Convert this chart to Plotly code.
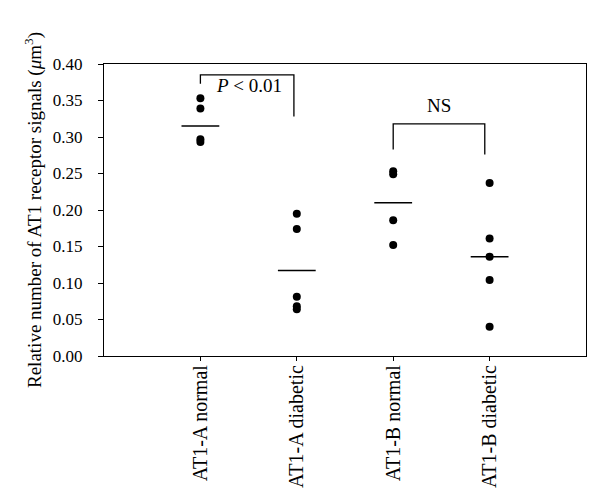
import plotly.graph_objects as go

groups = ["AT1-A normal", "AT1-A diabetic", "AT1-B normal", "AT1-B diabetic"]
a_normal = [0.353, 0.339, 0.297, 0.293]
a_diabetic = [0.195, 0.174, 0.081, 0.068, 0.064]
b_normal = [0.253, 0.249, 0.186, 0.152]
b_diabetic = [0.237, 0.161, 0.136, 0.104, 0.040]
group_means = [0.315, 0.117, 0.210, 0.136]

FONT = "Liberation Serif"
values = [a_normal, a_diabetic, b_normal, b_diabetic]

fig = go.Figure()
for i, vals in enumerate(values):
    fig.add_trace(go.Scatter(
        x=[i] * len(vals), y=vals, mode="markers",
        marker=dict(color="black", size=8),
        showlegend=False, hoverinfo="y",
    ))

# group means as short horizontal dashes
fig.add_trace(go.Scatter(
    x=list(range(len(groups))), y=group_means, mode="markers",
    marker=dict(symbol="line-ew-open", size=27, color="black",
                line=dict(color="black", width=1.5)),
    showlegend=False,
))

# significance brackets
fig.add_trace(go.Scatter(
    x=[0, 0, 0.97, 0.97], y=[0.373, 0.385, 0.385, 0.328],
    mode="lines", line=dict(color="black", width=1.3), showlegend=False, hoverinfo="skip",
))
fig.add_trace(go.Scatter(
    x=[2, 2, 2.95, 2.95], y=[0.283, 0.318, 0.318, 0.276],
    mode="lines", line=dict(color="black", width=1.3), showlegend=False, hoverinfo="skip",
))
fig.add_annotation(x=0.5, y=0.370, text="<i>P</i> < 0.01", showarrow=False,
                   font=dict(family=FONT, size=19, color="black"))
fig.add_annotation(x=2.475, y=0.343, text="NS", showarrow=False,
                   font=dict(family=FONT, size=19, color="black"))

fig.update_xaxes(
    range=[-1, 4], tickmode="array", tickvals=list(range(len(groups))), ticktext=groups,
    tickangle=-90, ticks="outside", ticklen=4, tickcolor="black",
    ticklabelstandoff=-4,
    showline=True, linecolor="black", linewidth=1.3, mirror=True,
    showgrid=False, zeroline=False,
    tickfont=dict(family=FONT, size=20, color="black"),
)
fig.update_yaxes(
    range=[0, 0.40], dtick=0.05, tickformat=".2f",
    ticks="outside", ticklen=5, tickcolor="black",
    ticklabelstandoff=12,
    showline=True, linecolor="black", linewidth=1.3, mirror=True,
    showgrid=False, zeroline=False,
    tickfont=dict(family=FONT, size=17, color="black"),
    title=dict(text="Relative number of AT1 receptor signals (<i>μ</i>m<sup>3</sup>)",
               font=dict(family=FONT, size=19, color="black"), standoff=6),
)
fig.update_layout(
    width=600, height=500,
    margin=dict(l=96, r=22, t=56, b=152),
    paper_bgcolor="white", plot_bgcolor="white",
)

fig.write_html("out.html")
